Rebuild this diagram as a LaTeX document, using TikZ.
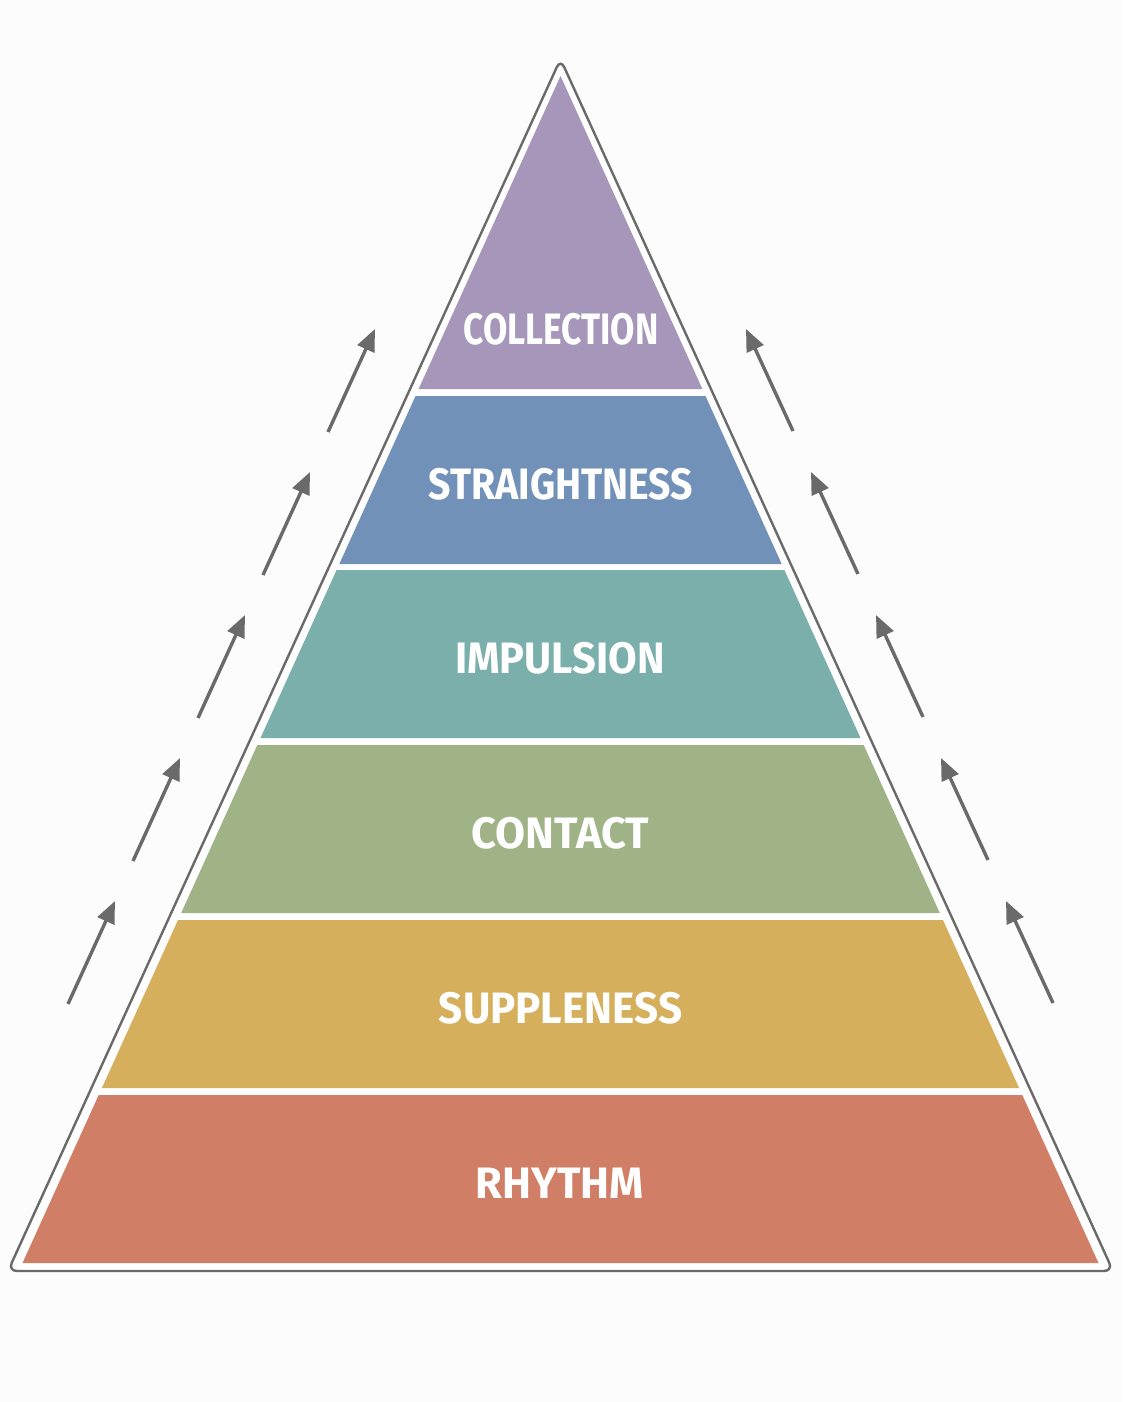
\documentclass[tikz,border=0pt]{standalone}
\usepackage{fontspec}
\newfontfamily\labelfont[FakeStretch=0.89]{Fira Sans}
\usetikzlibrary{arrows.meta}
\definecolor{bg}{HTML}{FCFCFC}
\definecolor{outline}{HTML}{6A6A6A}
\definecolor{cCollection}{HTML}{A596BA}
\definecolor{cStraight}{HTML}{7291B8}
\definecolor{cImpulsion}{HTML}{7AAFAC}
\definecolor{cContact}{HTML}{9FB387}
\definecolor{cSupple}{HTML}{D5AF5C}
\definecolor{cRhythm}{HTML}{D07E65}
\definecolor{arrowgray}{HTML}{6A6A6A}
\tikzset{
  bandlabel/.style={text=white, font=\labelfont\bfseries\fontsize{44}{48}\selectfont, inner sep=0pt, anchor=center, transform shape, xscale=#1},
  bandlabel/.default=1,
  uparrow/.style={draw=arrowgray, line width=3.4pt, -{Triangle[length=22pt,width=18pt]}},
  frame/.style={draw=outline, line width=2.4pt, rounded corners=9pt, fill=white}
}
\begin{document}
\begin{tikzpicture}[x=1pt,y=-1pt]
\useasboundingbox (0,0) rectangle (1122,1402);
\fill[bg] (0,0) rectangle (1122,1402);
% outer frame
\draw[frame] (560.5,59) -- (1113,1271) -- (8,1271) -- cycle;
% bands
\fill[cCollection] (560.5,76) -- (702.4,389) -- (418.6,389) -- cycle;
\fill[cStraight] (415.5,396) -- (705.5,396) -- (781.7,564) -- (339.3,564) -- cycle;
\fill[cImpulsion] (336.6,570) -- (784.4,570) -- (860.5,738) -- (260.5,738) -- cycle;
\fill[cContact] (257.3,745) -- (863.7,745) -- (939.8,913) -- (181.2,913) -- cycle;
\fill[cSupple] (178.0,920) -- (943.0,920) -- (1019.1,1088) -- (101.9,1088) -- cycle;
\fill[cRhythm] (98.7,1095) -- (1022.3,1095) -- (1098.5,1263) -- (22.5,1263) -- cycle;
% labels
\node[bandlabel=0.9] (collection) at (561,329) {COLLECTION};
\node[bandlabel=1.0] (straightness) at (561,484) {STRAIGHTNESS};
\node[bandlabel=1.06] (impulsion) at (560,658) {IMPULSION};
\node[bandlabel=1.11] (contact) at (560.5,833) {CONTACT};
\node[bandlabel=1.075] (suppleness) at (560.5,1008) {SUPPLENESS};
\node[bandlabel=1.11] (rhythm) at (560,1183) {RHYTHM};
% arrows left
\foreach \i/\tx/\ty/\hx/\hy in {1/68/1004/115/901, 2/133/861/180/758, 3/198/718/245/615, 4/263/575/310/472, 5/328/432/375/329}{
  \coordinate (lt\i) at (\tx,\ty);
  \coordinate (lh\i) at (\hx,\hy);
  \draw[uparrow] (lt\i) -- (lh\i);
}
% arrows right
\foreach \i/\tx/\ty/\hx/\hy in {1/1053/1003/1006/901, 2/988/860/941/758, 3/923/717/876/615, 4/858/574/811/472, 5/793/431/746/329}{
  \coordinate (rt\i) at (\tx,\ty);
  \coordinate (rh\i) at (\hx,\hy);
  \draw[uparrow] (rt\i) -- (rh\i);
}
\end{tikzpicture}
\end{document}
